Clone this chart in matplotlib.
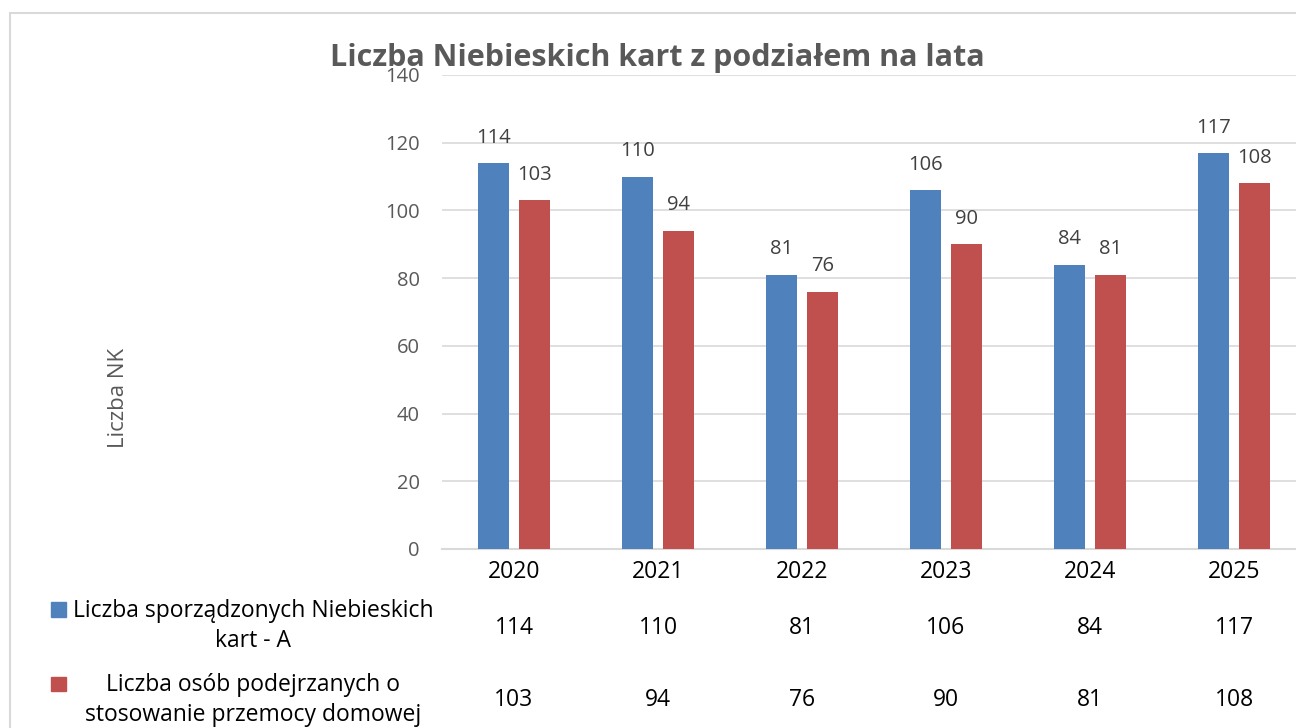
import matplotlib
matplotlib.use("Agg")
import matplotlib.pyplot as plt
from matplotlib.patches import Rectangle
from matplotlib.transforms import blended_transform_factory
import numpy as np

plt.rcParams['font.family'] = ['Open Sans', 'DejaVu Sans']

years = ["2020", "2021", "2022", "2023", "2024", "2025"]
series_a = [114, 110, 81, 106, 84, 117]
series_b = [103, 94, 76, 90, 81, 108]
label_a = "Liczba sporządzonych Niebieskich\nkart - A"
label_b = "Liczba osób podejrzanych o\nstosowanie przemocy domowej"
title = "Liczba Niebieskich kart z podziałem na lata"
ylabel = "Liczba NK"
yticks = [0, 20, 40, 60, 80, 100, 120, 140]

W, H = 1296, 728
fig = plt.figure(figsize=(W / 100, H / 100), dpi=100)

def fx(px):
    return px / W

def fy(py):
    return 1 - py / H

# chart border
fig.patches.append(Rectangle((fx(10), fy(740)), fx(1300), fy(13) - fy(740),
                             transform=fig.transFigure, fill=False,
                             edgecolor="#d9d9d9", linewidth=1.5))

ax_left, ax_right = 442, 1306
ax_top, ax_bot = 75, 549
ax = fig.add_axes([fx(ax_left), fy(ax_bot), fx(ax_right - ax_left), fy(ax_top) - fy(ax_bot)])

blue = "#4F81BD"
red = "#C0504D"
x = np.arange(len(years))
w = 0.222
off = 0.1424
ba = ax.bar(x - off, series_a, w, color=blue, zorder=3)
bb = ax.bar(x + off, series_b, w, color=red, zorder=3)

for bars, vals in ((ba, series_a), (bb, series_b)):
    for b, v in zip(bars, vals):
        ax.annotate(str(v), (b.get_x() + b.get_width() / 2, v), xytext=(0, 11),
                    textcoords="offset points", ha="center", va="bottom",
                    fontsize=14.5, color="#404040")

ax.set_xlim(-0.5, len(years) - 0.5)
ax.set_ylim(0, 140)
ax.set_yticks(yticks)
ax.set_yticklabels([str(t) for t in yticks], fontsize=14.5, color="#595959")
ax.tick_params(axis="y", length=0, pad=16)
ax.set_xticks(x)
ax.set_xticklabels(years, fontsize=16.5, color="black")
ax.tick_params(axis="x", length=0, pad=8)
ax.yaxis.grid(True, color="#d9d9d9", linewidth=1.2, zorder=0)
for s in ("top", "right", "left"):
    ax.spines[s].set_visible(False)
ax.spines["bottom"].set_color("#d9d9d9")
ax.spines["bottom"].set_linewidth(1.5)

fig.text(fx(657), fy(58), title, ha="center", va="center", fontsize=22,
         fontweight="bold", color="#595959")
fig.text(fx(118), fy(398), ylabel, ha="center", va="center", rotation=90,
         fontsize=16, color="#595959")

# data table
tr = blended_transform_factory(ax.transData, fig.transFigure)
for i in range(len(years)):
    ax.text(x[i], fy(628), str(series_a[i]), transform=tr, ha="center", va="center",
            fontsize=16.5, color="black")
    ax.text(x[i], fy(700), str(series_b[i]), transform=tr, ha="center", va="center",
            fontsize=16.5, color="black")

fig.patches.append(Rectangle((fx(51), fy(617)), fx(15), fy(602) - fy(617),
                             transform=fig.transFigure, color=blue))
fig.patches.append(Rectangle((fx(51), fy(691)), fx(15), fy(677) - fy(691),
                             transform=fig.transFigure, color=red))
fig.text(fx(253), fy(626), label_a, ha="center", va="center", fontsize=16.5,
         color="black", linespacing=1.35, multialignment="center")
fig.text(fx(253), fy(700), label_b, ha="center", va="center", fontsize=16.5,
         color="black", linespacing=1.35, multialignment="center")

fig.savefig("out.png", dpi=100)
